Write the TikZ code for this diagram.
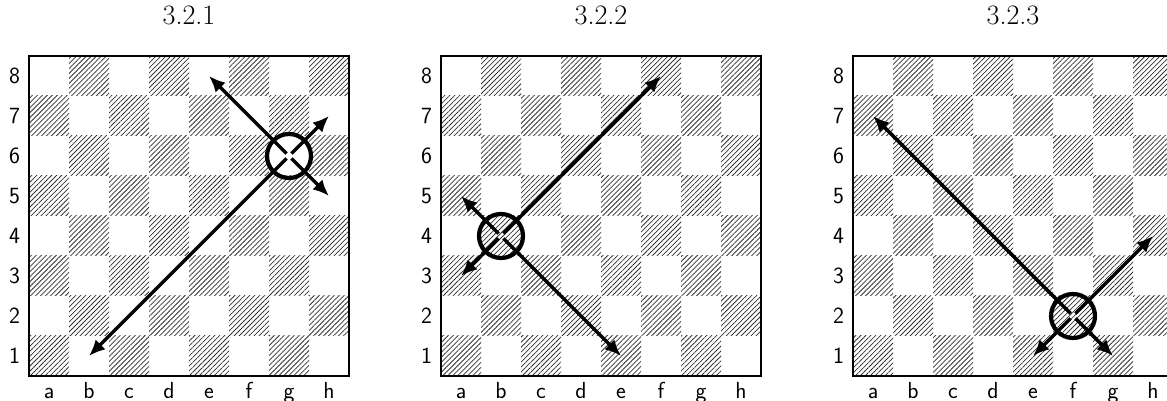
\documentclass[tikz,border=0pt]{standalone}
\usetikzlibrary{patterns.meta,arrows.meta}
\begin{document}
\begin{tikzpicture}[x=1cm,y=1cm,
  dark/.style={pattern={Lines[angle=45,distance=2.5pt,line width=0.55pt]},pattern color=black!80},
  frame/.style={draw=black,line width=0.8pt},
  rank/.style={font=\sffamily\fontsize{16.5}{19}\selectfont,inner sep=0pt},
  file/.style={font=\sffamily\fontsize{16.5}{19}\selectfont,inner sep=0pt,anchor=base},
  title/.style={font=\fontsize{20}{24}\selectfont,inner sep=0pt},
  piece/.style={circle,draw=black,line width=3pt,minimum size=1.1cm,inner sep=0pt},
  arr/.style={line width=2.5pt,-{Latex[length=11.5pt,width=10pt]},shorten <=2.5pt}]
\useasboundingbox (-0.725,-0.625) rectangle (28.45,9.4);
\clip (-0.725,-0.625) rectangle (28.45,9.4);
\foreach \b/\ox/\t in {1/0/3.2.1,2/10.3/3.2.2,3/20.6/3.2.3}{
  \begin{scope}[xshift=\ox cm]
    \foreach \f/\l in {1/a,2/b,3/c,4/d,5/e,6/f,7/g,8/h}{
      \foreach \r in {1,...,8}{
        \pgfmathtruncatemacro{\myparity}{mod(\f+\r,2)}
        \ifnum\myparity=0 \fill[dark] (\f-1,\r-1) rectangle (\f,\r); \fi
        \coordinate (s\b-\l\r) at (\f-0.5,\r-0.5);
      }
      \node[file] (f\b-\l) at (\f-0.5,-0.57) {\l};
    }
    \foreach \r in {1,...,8}{
      \node[rank] (r\b-\r) at (-0.36,\r-0.5) {\r};
    }
    \draw[frame] (0,0) rectangle (8,8);
    \node[title] (t\b) at (4,9.025) {\t};
  \end{scope}
}
% board 1
\node[piece] (k1) at (s1-g6) {};
\draw[arr] (s1-g6) -- (s1-b1);
\draw[arr] (s1-g6) -- (s1-e8);
\draw[arr] (s1-g6) -- (s1-h7);
\draw[arr] (s1-g6) -- (s1-h5);
% board 2
\node[piece] (k2) at (s2-b4) {};
\draw[arr] (s2-b4) -- (s2-f8);
\draw[arr] (s2-b4) -- (s2-a5);
\draw[arr] (s2-b4) -- (s2-a3);
\draw[arr] (s2-b4) -- (s2-e1);
% board 3
\node[piece] (k3) at (s3-f2) {};
\draw[arr] (s3-f2) -- (s3-a7);
\draw[arr] (s3-f2) -- (s3-h4);
\draw[arr] (s3-f2) -- (s3-e1);
\draw[arr] (s3-f2) -- (s3-g1);
\end{tikzpicture}
\end{document}
